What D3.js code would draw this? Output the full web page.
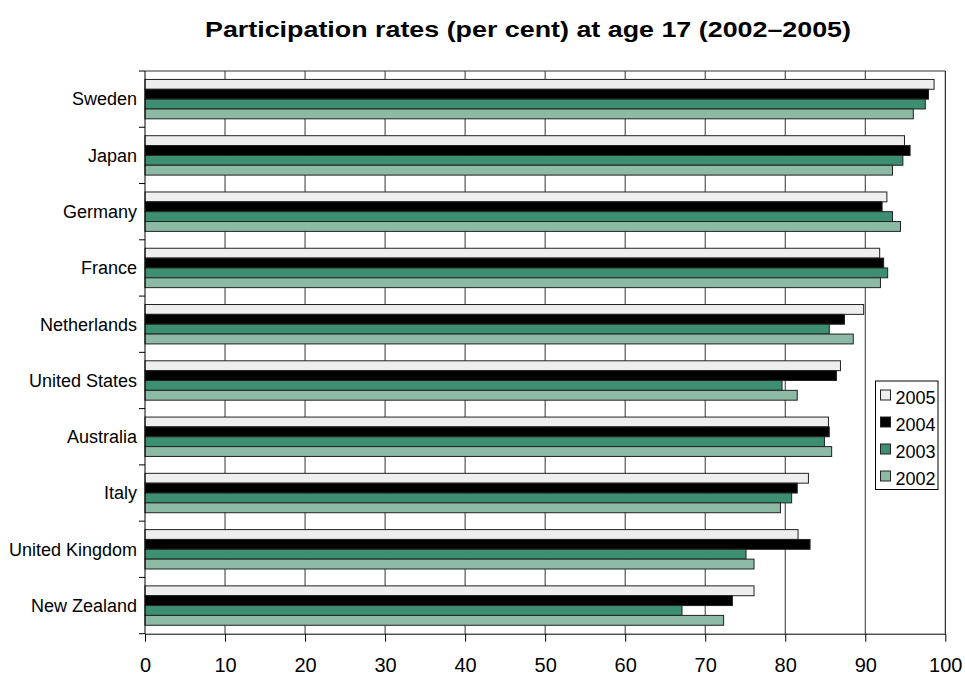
<!DOCTYPE html>
<html>
<head>
<meta charset="utf-8">
<script src="https://cdn.jsdelivr.net/npm/d3@7"></script>
<style>
  html, body { margin: 0; padding: 0; background: #fff; }
  svg { display: block; font-family: "Liberation Sans", Arial, sans-serif; }
</style>
</head>
<body>
<svg id="chart" width="965" height="676"></svg>
<script>
// ---- data ----
const titleText = "Participation rates (per cent) at age 17 (2002\u20132005)";
const countries = ["Sweden", "Japan", "Germany", "France", "Netherlands",
                   "United States", "Australia", "Italy", "United Kingdom", "New Zealand"];
const years = ["2005", "2004", "2003", "2002"];
const values2005 = [98.6, 94.9, 92.7, 91.8, 89.8, 86.9, 85.4, 82.9, 81.6, 76.1];
const values2004 = [97.9, 95.6, 92.1, 92.3, 87.4, 86.4, 85.5, 81.5, 83.1, 73.4];
const values2003 = [97.5, 94.7, 93.4, 92.8, 85.5, 79.6, 84.9, 80.8, 75.1, 67.1];
const values2002 = [96.0, 93.4, 94.4, 91.9, 88.5, 81.5, 85.8, 79.4, 76.1, 72.3];
const xTicks = [0, 10, 20, 30, 40, 50, 60, 70, 80, 90, 100];
const colors = {"2005": "#eeeeee", "2004": "#000000", "2003": "#3c8f70", "2002": "#8cbaa5"};

const seriesByYear = {"2005": values2005, "2004": values2004, "2003": values2003, "2002": values2002};
const rows = countries.map((c, i) => ({
  country: c,
  vals: years.map(y => ({year: y, value: seriesByYear[y][i]}))
}));

// ---- layout ----
const plot = {left: 145, right: 945.3, top: 71, bottom: 633.7};
const svg = d3.select("#chart");

const x = d3.scaleLinear().domain([0, 100]).range([plot.left, plot.right]);
const y0 = d3.scaleBand().domain(countries).range([plot.top, plot.bottom]).padding(0);
const bw = y0.bandwidth();
const y1 = d3.scaleBand().domain(years).range([bw * 0.15, bw * 0.85]).padding(0);

// title
svg.append("text")
  .attr("x", 528).attr("y", 37)
  .attr("text-anchor", "middle")
  .attr("font-size", 22).attr("font-weight", "bold")
  .attr("textLength", 646).attr("lengthAdjust", "spacingAndGlyphs")
  .attr("fill", "#000")
  .text(titleText);

// vertical gridlines
svg.append("g").selectAll("line")
  .data(xTicks.filter(t => t > 0 && t < 100))
  .join("line")
  .attr("x1", d => x(d)).attr("x2", d => x(d))
  .attr("y1", plot.top).attr("y2", plot.bottom)
  .attr("stroke", "#333").attr("stroke-width", 1);

// plot border (top, right)
svg.append("line")
  .attr("x1", plot.left).attr("x2", plot.right)
  .attr("y1", plot.top).attr("y2", plot.top)
  .attr("stroke", "#333").attr("stroke-width", 1);
svg.append("line")
  .attr("x1", plot.right).attr("x2", plot.right)
  .attr("y1", plot.top).attr("y2", plot.bottom)
  .attr("stroke", "#000").attr("stroke-width", 1);

// bars
const groups = svg.append("g").selectAll("g")
  .data(rows).join("g")
  .attr("transform", d => `translate(0,${y0(d.country)})`);

groups.selectAll("rect")
  .data(d => d.vals).join("rect")
  .attr("x", x(0))
  .attr("y", d => y1(d.year))
  .attr("width", d => x(d.value) - x(0))
  .attr("height", y1.bandwidth())
  .attr("fill", d => colors[d.year])
  .attr("stroke", "#222")
  .attr("stroke-width", 1);

// y axis (left) with ticks at category boundaries
const boundaries = countries.map(c => y0(c)).concat([plot.bottom]);
svg.append("line")
  .attr("x1", plot.left).attr("x2", plot.left)
  .attr("y1", plot.top).attr("y2", plot.bottom)
  .attr("stroke", "#000");
svg.append("g").selectAll("line")
  .data(boundaries).join("line")
  .attr("x1", plot.left - 6).attr("x2", plot.left)
  .attr("y1", d => d).attr("y2", d => d)
  .attr("stroke", "#000");

svg.append("g").selectAll("text")
  .data(countries).join("text")
  .attr("x", plot.left - 8)
  .attr("y", d => y0(d) + bw / 2)
  .attr("dy", "0.35em")
  .attr("text-anchor", "end")
  .attr("font-size", 18)
  .attr("fill", "#000")
  .text(d => d);

// x axis
const xAxis = d3.axisBottom(x).tickValues(xTicks).tickSize(8).tickPadding(16).tickSizeOuter(0);
const gx = svg.append("g")
  .attr("transform", `translate(0,${plot.bottom})`)
  .call(xAxis);
gx.select(".domain").attr("stroke", "#000");
gx.selectAll(".tick line").attr("stroke", "#000");
gx.selectAll(".tick text")
  .attr("font-size", 20)
  .attr("font-family", "Liberation Sans, Arial, sans-serif")
  .attr("fill", "#000");

// legend
const legend = svg.append("g");
legend.append("rect")
  .attr("x", 875.5).attr("y", 381)
  .attr("width", 62.5).attr("height", 108.5)
  .attr("fill", "#fff").attr("stroke", "#000");
const items = legend.selectAll("g.item")
  .data(years).join("g").attr("class", "item")
  .attr("transform", (d, i) => `translate(880.5,${390 + i * 27})`);
items.append("rect")
  .attr("width", 10).attr("height", 10)
  .attr("fill", d => colors[d]).attr("stroke", "#222");
items.append("text")
  .attr("x", 15).attr("y", 14)
  .attr("font-size", 18)
  .attr("fill", "#000")
  .text(d => d);
</script>
</body>
</html>
